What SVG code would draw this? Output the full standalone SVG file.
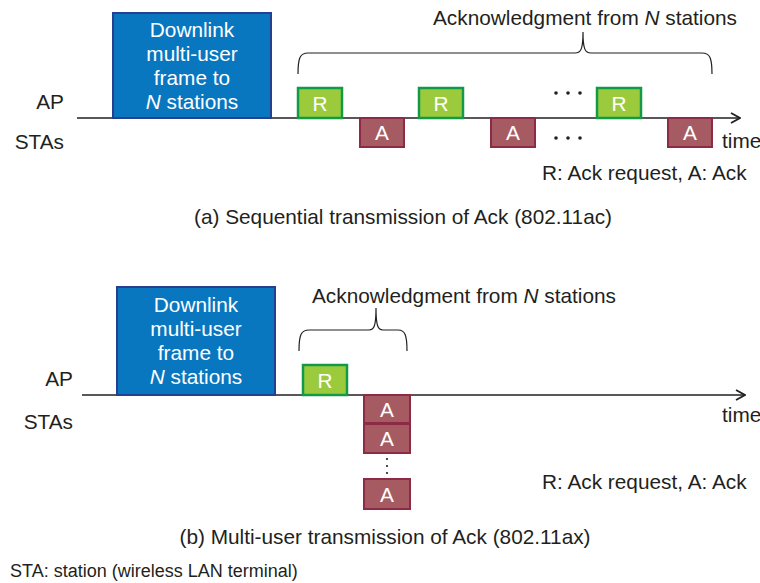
<svg xmlns="http://www.w3.org/2000/svg" width="760" height="583" viewBox="0 0 760 583">
  <style>
    text { font-family: "Liberation Sans", Arial, sans-serif; font-size: 20.8px; fill: #231f20; }
    .frame { fill: #0877bf; stroke: #263f8f; stroke-width: 2; }
    .frame-text { fill: #ffffff; text-anchor: middle; }
    .req { fill: #9bcb3c; stroke: #139a48; stroke-width: 2.5; }
    .ack { fill: #a65b63; stroke: #8d2a45; stroke-width: 2; }
    .box-text { fill: #ffffff; text-anchor: middle; }
    .axis { fill: none; stroke: #231f20; stroke-width: 1.6; }
    .brace { fill: none; stroke: #231f20; stroke-width: 1.2; }
    .dot { fill: #231f20; }
    .end { text-anchor: end; }
    .mid { text-anchor: middle; }
    .note { font-size: 18px; }
  </style>
  <defs>
    <marker id="arrow" viewBox="0 0 12 12" refX="11" refY="6" markerWidth="12" markerHeight="12" markerUnits="userSpaceOnUse" orient="auto">
      <path d="M2,1 L11,6 L2,11" fill="none" stroke="#231f20" stroke-width="1.8"/>
    </marker>
  </defs>

  <rect width="760" height="583" fill="#ffffff"/>

  <!-- (a) sequential acknowledgment -->
  <g id="connectors-a">
    <line class="axis" x1="77" y1="118" x2="740" y2="118" marker-end="url(#arrow)"/>
    <path class="brace" d="M298,74 C298,58 300,53 308,53 H575 C581,53 583,49 583,32 C583,49 585,53 591,53 H702 C710,53 712,58 712,74"/>
  </g>
  <text x="433" y="25">Acknowledgment from <tspan font-style="italic">N</tspan> stations</text>
  <text class="end" x="64" y="109">AP</text>
  <text class="end" x="64" y="149">STAs</text>

  <g id="dl-frame-a">
    <rect class="frame" x="113" y="13" width="158" height="105"/>
    <text class="frame-text" x="192" y="37">Downlink</text>
    <text class="frame-text" x="192" y="61">multi-user</text>
    <text class="frame-text" x="192" y="85">frame to</text>
    <text class="frame-text" x="192" y="109"><tspan font-style="italic">N</tspan> stations</text>
  </g>
  <g id="req-a1"><rect class="req" x="298" y="88" width="44" height="30"/><text class="box-text" x="320" y="111">R</text></g>
  <g id="ack-a1"><rect class="ack" x="360" y="118" width="44" height="29"/><text class="box-text" x="382" y="140">A</text></g>
  <g id="req-a2"><rect class="req" x="419" y="88" width="44" height="30"/><text class="box-text" x="441" y="111">R</text></g>
  <g id="ack-a2"><rect class="ack" x="491" y="118" width="44" height="29"/><text class="box-text" x="513" y="140">A</text></g>
  <g id="req-a3"><rect class="req" x="597" y="88" width="44" height="30"/><text class="box-text" x="619" y="111">R</text></g>
  <g id="ack-a3"><rect class="ack" x="668" y="118" width="44" height="29"/><text class="box-text" x="690" y="140">A</text></g>
  <g id="ellipsis-a">
    <circle class="dot" cx="556" cy="93" r="1.8"/><circle class="dot" cx="568" cy="93" r="1.8"/><circle class="dot" cx="580" cy="93" r="1.8"/>
    <circle class="dot" cx="556" cy="138" r="1.8"/><circle class="dot" cx="568" cy="138" r="1.8"/><circle class="dot" cx="580" cy="138" r="1.8"/>
  </g>
  <text x="722" y="148">time</text>
  <text x="542" y="180">R: Ack request, A: Ack</text>
  <text class="mid" x="403" y="224">(a) Sequential transmission of Ack (802.11ac)</text>

  <!-- (b) multi-user acknowledgment -->
  <g id="connectors-b">
    <line class="axis" x1="82" y1="395" x2="745" y2="395" marker-end="url(#arrow)"/>
    <path class="brace" d="M299,351 C299,335 301,330 309,330 H369 C374,330 376,326 376,308 C376,326 378,330 383,330 H398 C405,330 407,335 407,351"/>
  </g>
  <text x="312" y="303">Acknowledgment from <tspan font-style="italic">N</tspan> stations</text>
  <text class="end" x="73" y="386">AP</text>
  <text class="end" x="73" y="429">STAs</text>

  <g id="dl-frame-b">
    <rect class="frame" x="117" y="287" width="158" height="108"/>
    <text class="frame-text" x="196" y="312">Downlink</text>
    <text class="frame-text" x="196" y="336">multi-user</text>
    <text class="frame-text" x="196" y="360">frame to</text>
    <text class="frame-text" x="196" y="384"><tspan font-style="italic">N</tspan> stations</text>
  </g>
  <g id="req-b"><rect class="req" x="303" y="365" width="44" height="30"/><text class="box-text" x="325" y="388">R</text></g>
  <g id="ack-b1"><rect class="ack" x="364" y="395" width="46" height="28"/><text class="box-text" x="387" y="417">A</text></g>
  <g id="ack-b2"><rect class="ack" x="364" y="424" width="46" height="29"/><text class="box-text" x="387" y="446">A</text></g>
  <g id="ellipsis-b">
    <circle class="dot" cx="387" cy="459" r="1.1"/><circle class="dot" cx="387" cy="466" r="1.1"/><circle class="dot" cx="387" cy="473" r="1.1"/>
  </g>
  <g id="ack-b3"><rect class="ack" x="364" y="479" width="46" height="30"/><text class="box-text" x="387" y="502">A</text></g>
  <text x="722" y="422">time</text>
  <text x="542" y="489">R: Ack request, A: Ack</text>
  <text class="mid" x="385" y="544">(b) Multi-user transmission of Ack (802.11ax)</text>

  <text class="note" x="10" y="577">STA: station (wireless LAN terminal)</text>
</svg>
